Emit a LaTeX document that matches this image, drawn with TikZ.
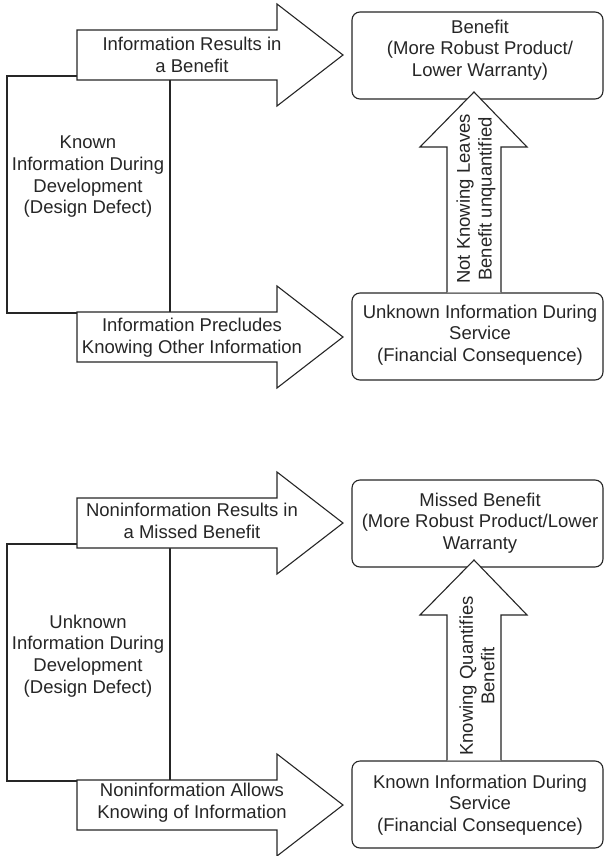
\documentclass[tikz,border=0pt]{standalone}
\usepackage{fontspec}
\setmainfont{Liberation Sans}
\begin{document}
\begin{tikzpicture}[x=1pt,y=-1pt,
  every node/.style={font=\fontsize{18.5}{21.7}\selectfont, align=center, inner sep=0pt, text=black!85},
  shapeline/.style={draw=black!85, line width=1.1pt, fill=white, line join=miter},
  panel/.style={shapeline, rounded corners=8pt, minimum width=251pt, minimum height=87pt},
  devbox/.style={shapeline, minimum width=163pt, minimum height=237pt}]
\useasboundingbox (0,0) rectangle (605,856);

% ---------- upper chain: known information ----------
\node[devbox] (devA) at (88.5,194.5) {};
\node[panel] (goalA) at (477.5,55.5) {};
\node[panel] (svcA) at (477.5,336.5) {};
% block arrow to the benefit
\draw[shapeline] (77,30) -- (277,30) -- (277,4) -- (343,55) -- (277,106) -- (277,80) -- (77,80) -- cycle;
% block arrow to the service consequence
\draw[shapeline] (77,312) -- (277,312) -- (277,286) -- (343,337) -- (277,388) -- (277,362) -- (77,362) -- cycle;
% upward block arrow from service to benefit
\draw[shapeline] (447,0 |- svcA.north) -- (447,147) -- (420,147) -- (474,92) -- (527,147) -- (501,147) -- (501,0 |- svcA.north);

\node (devAtxt) at (88,177) {Known\\Information During\\Development\\(Design Defect)};
\node (arrA1) at (192,55) {Information Results in\\a Benefit};
\node (arrA2) at (192,338) {Information Precludes\\Knowing Other Information};
\node (goalAtxt) at (480,50) {Benefit\\(More Robust Product/\\Lower Warranty)};
\node (svcAtxt) at (480,335) {Unknown Information During\\Service\\(Financial Consequence)};
\node[rotate=90] (upA) at (476,199) {Not Knowing Leaves\\Benefit unquantified};

% ---------- lower chain: unknown information ----------
\begin{scope}[shift={(0,468)}]
\node[devbox] (devB) at (88.5,194.5) {};
\node[panel] (goalB) at (477.5,55.5) {};
\node[panel] (svcB) at (477.5,336.5) {};
\draw[shapeline] (77,30) -- (277,30) -- (277,4) -- (343,55) -- (277,106) -- (277,80) -- (77,80) -- cycle;
\draw[shapeline] (77,312) -- (277,312) -- (277,286) -- (343,337) -- (277,388) -- (277,362) -- (77,362) -- cycle;
\draw[shapeline] (447,0 |- svcB.north) -- (447,147) -- (420,147) -- (474,92) -- (527,147) -- (501,147) -- (501,0 |- svcB.north);

\node (devBtxt) at (88,188) {Unknown\\Information During\\Development\\(Design Defect)};
\node (arrB1) at (192,53) {Noninformation Results in\\a Missed Benefit};
\node (arrB2) at (192,335) {Noninformation Allows\\Knowing of Information};
\node (goalBtxt) at (480,55) {Missed Benefit\\(More Robust Product/Lower\\Warranty};
\node (svcBtxt) at (480,337) {Known Information During\\Service\\(Financial Consequence)};
\node[rotate=90] (upB) at (477,208) {Knowing Quantifies\\Benefit};
\end{scope}
\end{tikzpicture}
\end{document}
